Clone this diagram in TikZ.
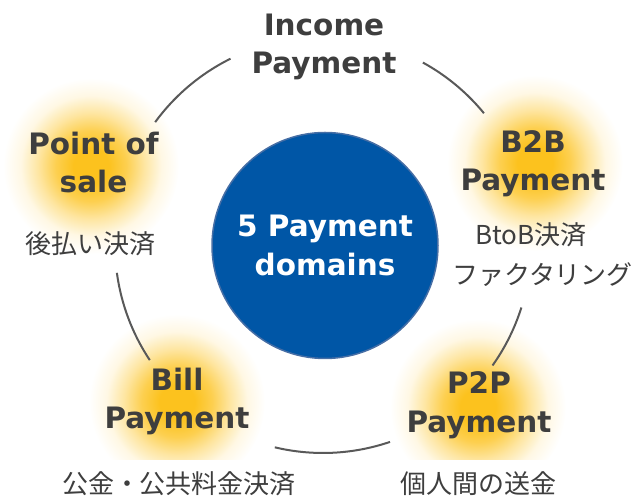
\documentclass[tikz,border=0pt]{standalone}
\usepackage{fontspec}
\setmainfont{DejaVu Sans}
\newfontfamily\jpfont{Noto Sans CJK JP}
\definecolor{gold}{RGB}{252,194,30}
\definecolor{txt}{RGB}{62,62,62}
\definecolor{ringcol}{RGB}{89,89,89}
\definecolor{blueA}{RGB}{0,86,166}
\definecolor{blueB}{RGB}{70,110,165}
\pgfdeclareradialshading{glow}{\pgfpoint{0bp}{0bp}}{color(0bp)=(gold); color(5bp)=(gold); color(10bp)=(gold!78!white); color(15bp)=(gold!42!white); color(20bp)=(gold!12!white); color(25bp)=(white); color(50bp)=(white)}
\begin{document}
\begin{tikzpicture}[x=1pt,y=1pt,
  title/.style={text=txt, font=\fontsize{29.5}{38.5}\selectfont\bfseries, align=center, inner sep=0pt},
  jp/.style={text=txt, font=\fontsize{26}{40}\selectfont\jpfont, inner sep=0pt},
  ring/.style={draw=ringcol, line width=2pt},
  glowdisc/.style={shading=glow}]
\useasboundingbox (0,0) rectangle (638,497);
% glows
\shade[glowdisc] (91,331) circle (88);
\shade[glowdisc] (535,334) circle (88);
\shade[glowdisc] (177,95) circle (88);
\shade[glowdisc] (478,90) circle (88);
% ring
\coordinate (rc) at (323,252);
\draw[ring] ([shift={(116.4:208)}]rc) arc[start angle=116.4, end angle=143.8, radius=208];
\draw[ring] ([shift={(187.7:208)}]rc) arc[start angle=187.7, end angle=213.6, radius=208];
\draw[ring] ([shift={(256.6:208)}]rc) arc[start angle=256.6, end angle=288.8, radius=208];
\draw[ring] ([shift={(324.6:208)}]rc) arc[start angle=324.6, end angle=342.5, radius=208];
\draw[ring] ([shift={(39.3:208)}]rc) arc[start angle=39.3, end angle=61.3, radius=208];
% center
\node[circle, fill=blueA, draw=blueB, line width=1.5pt, minimum size=226pt, inner sep=0pt,
      text=white, font=\fontsize{29.5}{39}\selectfont\bfseries, align=center] (core) at (325,251.5) {5 Payment\\domains};
% titles
\node[title] (income) at (324,450) {Income\\Payment};
\node[title] (pos) at (93.5,334.7) {Point of\\sale};
\node[title] (b2b) at (533,333.3) {B2B\\Payment};
\node[title] (bill) at (177,95.3) {Bill\\Payment};
\node[title] (p2p) at (479,91.8) {P2P\\Payment};
% japanese
\node[jp] (posjp) at (91,253.5) {後払い決済};
\node[jp] (b2bjpA) at (531,262) {BtoB決済};
\node[jp] (b2bjpB) at (542.5,222) {ファクタリング};
\node[jp, fill=white, inner ysep=12pt] (billjp) at (179,13) {公金・公共料金決済};
\node[jp, fill=white, inner ysep=12pt] (p2pjp) at (478.5,13) {個人間の送金};
\end{tikzpicture}
\end{document}
